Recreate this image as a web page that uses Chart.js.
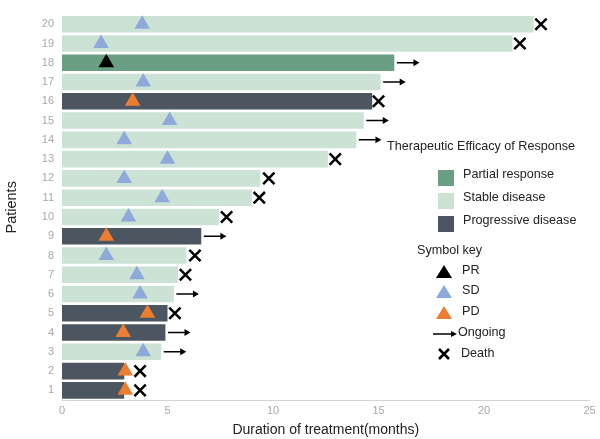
<!DOCTYPE html>
<html>
<head>
<meta charset="utf-8">
<script src="https://cdn.jsdelivr.net/npm/chart.js@4/dist/chart.umd.min.js"></script>
<style>
  html, body { margin: 0; padding: 0; background: #fff; }
  #wrap { width: 600px; height: 439px; }
</style>
</head>
<body>
<div id="wrap"><canvas id="swimmer"></canvas></div>
<script>
// patients 1..20
const patients = ["1","2","3","4","5","6","7","8","9","10","11","12","13","14","15","16","17","18","19","20"];
// duration of treatment (months)
const durations = [2.95, 2.95, 4.7, 4.9, 5.0, 5.3, 5.5, 5.9, 6.6, 7.45, 9.0, 9.4, 12.6, 13.95, 14.3, 14.7, 15.1, 15.75, 21.35, 22.35];
// best response: PR / SD / PD
const response = ["PD","PD","SD","PD","PD","SD","SD","SD","PD","SD","SD","SD","SD","SD","SD","PD","SD","PR","SD","SD"];
// time of response assessment (triangle marker)
const responseTime = [3.0, 3.0, 3.85, 2.9, 4.05, 3.7, 3.55, 2.1, 2.1, 3.15, 4.75, 2.95, 5.0, 2.95, 5.1, 3.35, 3.85, 2.1, 1.85, 3.8];
// outcome: "death" or "ongoing"
const outcome = ["death","death","ongoing","ongoing","death","ongoing","death","death","ongoing","death","death","death","death","ongoing","ongoing","death","ongoing","ongoing","death","death"];
const deathTime = [3.7, 3.7, null, null, 5.35, null, 5.85, 6.3, null, 7.8, 9.35, 9.8, 12.95, null, null, 15.0, null, null, 21.7, 22.7];

const barColors = { PR: "#6b9f83", SD: "#cce2d4", PD: "#4b5661" };
const triColors = { PR: "#000000", SD: "#8eaadb", PD: "#ed7d31" };

const triPoints = patients.map((p, i) => ({ x: responseTime[i], y: p }));
const deathPoints = patients.filter((p, i) => outcome[i] === "death").map(p => {
  const i = patients.indexOf(p);
  return { x: deathTime[i], y: p };
});
const ongoing = patients.filter((p, i) => outcome[i] === "ongoing");
const arrowShafts = [];
const arrowHeads = [];
ongoing.forEach(p => {
  const i = patients.indexOf(p);
  arrowShafts.push({ x: durations[i] + 0.12, y: p });
  arrowShafts.push({ x: durations[i] + 1.0, y: p });
  arrowShafts.push({ x: NaN, y: p });
  arrowHeads.push({ x: durations[i] + 1.0, y: p });
});

const FONT = "'Liberation Sans', Arial, sans-serif";

const legendPlugin = {
  id: "swimLegend",
  afterDraw(chart) {
    const c = chart.ctx;
    c.save();
    c.textBaseline = "middle";
    c.textAlign = "left";
    c.fillStyle = "#222";
    c.font = "12.6px " + FONT;
    c.fillText("Therapeutic Efficacy of Response", 387, 147);
    const boxes = [["Partial response", "PR", 178], ["Stable disease", "SD", 201], ["Progressive disease", "PD", 224]];
    boxes.forEach(([label, key, y]) => {
      c.fillStyle = barColors[key];
      c.fillRect(438, y - 8, 16, 16);
      c.fillStyle = "#222";
      c.fillText(label, 463, y - 3);
    });
    c.fillText("Symbol key", 417, 251);
    const tris = [["PR", 272], ["SD", 292], ["PD", 313]];
    tris.forEach(([key, y]) => {
      c.fillStyle = triColors[key];
      c.beginPath();
      c.moveTo(444, y - 7);
      c.lineTo(452, y + 6);
      c.lineTo(436, y + 6);
      c.closePath();
      c.fill();
      c.fillStyle = "#222";
      c.fillText(key, 462, y - 1);
    });
    // ongoing arrow
    c.strokeStyle = "#000";
    c.lineWidth = 1.5;
    c.beginPath();
    c.moveTo(433, 334);
    c.lineTo(452, 334);
    c.stroke();
    c.fillStyle = "#000";
    c.beginPath();
    c.moveTo(457, 334);
    c.lineTo(451, 331);
    c.lineTo(451, 337);
    c.closePath();
    c.fill();
    c.fillStyle = "#222";
    c.fillText("Ongoing", 458, 333);
    // death cross
    c.lineWidth = 2.5;
    c.beginPath();
    c.moveTo(439, 349); c.lineTo(449, 359);
    c.moveTo(449, 349); c.lineTo(439, 359);
    c.stroke();
    c.fillText("Death", 461, 354);
    c.restore();
  }
};

new Chart(document.getElementById("swimmer"), {
  type: "bar",
  data: {
    labels: patients,
    datasets: [
      {
        label: "Duration",
        data: durations,
        backgroundColor: response.map(r => barColors[r]),
        borderWidth: 0,
        barPercentage: 0.86,
        categoryPercentage: 1.0,
        order: 5,
      },
      {
        type: "scatter",
        label: "Response",
        data: triPoints,
        pointStyle: "triangle",
        pointRadius: 9,
        pointBackgroundColor: response.map(r => triColors[r]),
        pointBorderWidth: 0,
        order: 1,
      },
      {
        type: "scatter",
        label: "Death",
        data: deathPoints,
        pointStyle: "crossRot",
        pointRadius: 8,
        pointBorderColor: "#000",
        pointBorderWidth: 2.5,
        order: 1,
      },
      {
        type: "line",
        label: "Ongoing",
        data: arrowShafts,
        borderColor: "#000",
        borderWidth: 1.5,
        pointRadius: 0,
        spanGaps: false,
        fill: false,
        order: 1,
      },
      {
        type: "scatter",
        label: "Ongoing head",
        data: arrowHeads,
        pointStyle: "triangle",
        rotation: 90,
        pointRadius: 4,
        pointBackgroundColor: "#000",
        pointBorderWidth: 0,
        order: 1,
      },
    ],
  },
  options: {
    indexAxis: "y",
    responsive: true,
    maintainAspectRatio: false,
    animation: false,
    layout: { padding: { top: 5, right: 2, left: 3, bottom: 0 } },
    plugins: {
      legend: { display: false },
      tooltip: { enabled: false },
    },
    scales: {
      x: {
        type: "linear",
        min: 0,
        max: 25,
        ticks: { stepSize: 5, color: "#a8a8a8", font: { family: FONT, size: 11 }, padding: 4 },
        grid: { display: false, drawTicks: false },
        border: { color: "#d4d4d4", width: 1 },
        title: {
          display: true,
          text: "Duration of treatment(months)",
          color: "#222",
          font: { family: FONT, size: 14 },
          padding: { top: 2, bottom: 0 },
        },
        afterFit: (axis) => { axis.height = 39; },
      },
      y: {
        type: "category",
        labels: patients,
        reverse: true,
        offset: true,
        ticks: { color: "#a8a8a8", font: { family: FONT, size: 11 }, padding: 8 },
        grid: { display: false, drawTicks: false },
        border: { display: false },
        title: {
          display: true,
          text: "Patients",
          color: "#222",
          font: { family: FONT, size: 14.5 },
          padding: { top: 0, bottom: 0 },
        },
        afterFit: (axis) => { axis.width = 59; },
      },
    },
  },
  plugins: [legendPlugin],
});
</script>
</body>
</html>
